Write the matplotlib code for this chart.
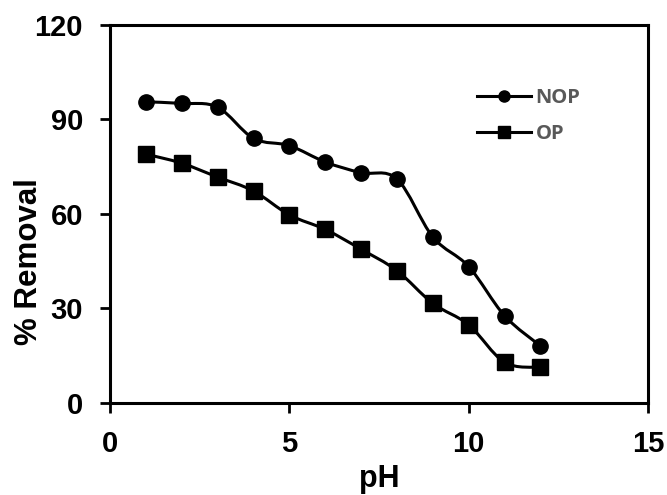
import matplotlib
matplotlib.use("Agg")
import matplotlib.pyplot as plt
from matplotlib.path import Path
from matplotlib.patches import PathPatch
from matplotlib.lines import Line2D

ph = [1, 2, 3, 4, 5, 6, 7, 8, 9, 10, 11, 12]
nop = [95.6, 95.1, 93.9, 84.0, 81.7, 76.5, 73.1, 71.1, 52.7, 43.3, 27.7, 18.1]
op = [79.0, 76.1, 71.7, 67.3, 59.7, 55.1, 48.8, 42.0, 31.6, 24.8, 12.9, 11.3]


def smooth_path(x, y):
    # Catmull-Rom style bezier, like the smoothed lines in Excel
    verts = [(x[0], y[0])]
    codes = [Path.MOVETO]
    n = len(x)
    for i in range(n - 1):
        x0, y0 = (x[i - 1], y[i - 1]) if i > 0 else (x[i], y[i])
        x1, y1 = x[i], y[i]
        x2, y2 = x[i + 1], y[i + 1]
        x3, y3 = (x[i + 2], y[i + 2]) if i + 2 < n else (x2, y2)
        c1 = (x1 + (x2 - x0) / 6, y1 + (y2 - y0) / 6)
        c2 = (x2 - (x3 - x1) / 6, y2 - (y3 - y1) / 6)
        verts += [c1, c2, (x2, y2)]
        codes += [Path.CURVE4] * 3
    return Path(verts, codes)


fig = plt.figure(figsize=(6.67, 4.95), dpi=100)
ax = fig.add_axes([0.165, 0.186, 0.8065, 0.7635])

for xs, ys, mk in [(ph, nop, "o"), (ph, op, "s")]:
    ax.add_patch(PathPatch(smooth_path(xs, ys), fill=False, edgecolor="black",
                           linewidth=2.2, transform=ax.transData, zorder=2))
    ax.plot(xs, ys, linestyle="none", marker=mk, color="black", markersize=11, zorder=3)

ax.set_xlim(0, 15)
ax.set_ylim(0, 120)
ax.set_xticks([0, 5, 10, 15])
ax.set_yticks([0, 30, 60, 90, 120])

for s in ax.spines.values():
    s.set_linewidth(2.2)
ax.tick_params(axis="both", direction="out", width=2.0, length=7.5)
ax.tick_params(axis="y", pad=12)
ax.tick_params(axis="x", pad=12)
for lab in ax.get_xticklabels() + ax.get_yticklabels():
    lab.set_fontfamily("Liberation Sans")
    lab.set_fontweight("bold")
    lab.set_fontsize(21)

fig.text(379 / 667, 1 - 479 / 495, "pH", ha="center", va="center",
         fontfamily="Liberation Sans", fontweight="bold", fontsize=22)
fig.text(29 / 667, 1 - 262 / 495, "% Removal", ha="center", va="center", rotation=90,
         fontfamily="Liberation Sans", fontweight="bold", fontsize=22.5)

handles = [
    Line2D([], [], color="black", linewidth=2.2, marker="o", markersize=8),
    Line2D([], [], color="black", linewidth=2.2, marker="s", markersize=8),
]
leg = ax.legend(handles, ["NOP", "OP"], loc="upper left",
                bbox_to_anchor=((475 - 110) / 538 - 0.03, 1 - (80 - 25) / 378 + 0.027),
                frameon=False, handlelength=2.7, handletextpad=0.2, labelspacing=0.8,
                prop={"family": "Open Sans", "weight": "bold", "size": 14.5})
for t in leg.get_texts():
    t.set_color("#595959")

fig.savefig("out.png", dpi=100)
